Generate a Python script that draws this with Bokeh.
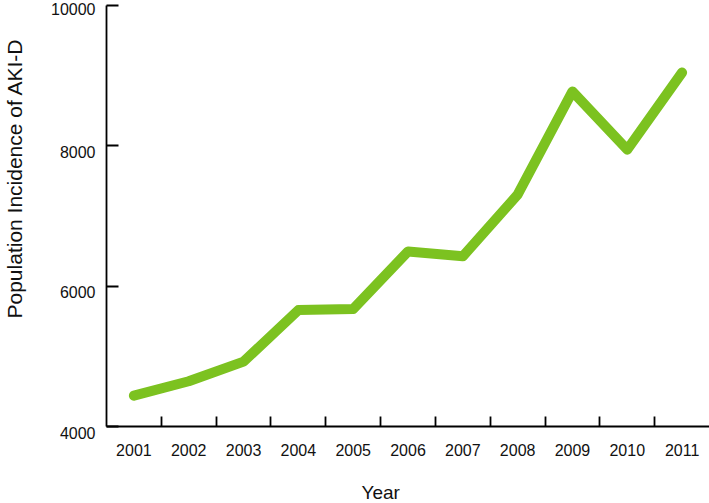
from bokeh.plotting import figure
from bokeh.models import Range1d, FixedTicker, Title
from bokeh.embed import file_html
from bokeh.resources import INLINE

years = [2001, 2002, 2003, 2004, 2005, 2006, 2007, 2008, 2009, 2010, 2011]
incidence = [4440, 4645, 4925, 5660, 5675, 6495, 6425, 7305, 8775, 7945, 9045]
year_boundaries = [y + 0.5 for y in years[:-1]]
y_ticks = [4000, 6000, 8000, 10000]
x_title = "Year"
y_title = "Population Incidence of AKI-D"

FONT = "Liberation Sans"
TEXT = "#111111"

p = figure(width=709, height=503, output_backend="svg", toolbar_location=None,
           x_range=Range1d(2000.5, 2011.5), y_range=Range1d(4000, 10000),
           min_border_left=105, min_border_right=0, min_border_top=5, min_border_bottom=77)
p.outline_line_color = None
p.xgrid.visible = False
p.ygrid.visible = False
p.background_fill_color = "white"
p.border_fill_color = "white"

p.line(years, incidence, line_color="#7cc220", line_width=10,
       line_cap="round", line_join="round")

xa = p.xaxis[0]
xa.ticker = FixedTicker(ticks=years, minor_ticks=year_boundaries)
xa.major_tick_in = 0
xa.major_tick_out = 0
xa.minor_tick_in = 10
xa.minor_tick_out = 0
xa.minor_tick_line_color = "black"
xa.minor_tick_line_width = 1.8
xa.axis_line_color = "black"
xa.axis_line_width = 1.8
xa.major_label_standoff = 17
xa.major_label_text_font = FONT
xa.major_label_text_font_size = "16px"
xa.major_label_text_color = TEXT

ya = p.yaxis[0]
ya.ticker = FixedTicker(ticks=y_ticks, minor_ticks=[])
ya.major_tick_in = 12
ya.major_tick_out = 0
ya.major_tick_line_color = "black"
ya.major_tick_line_width = 1.8
ya.minor_tick_in = 0
ya.minor_tick_out = 0
ya.axis_line_color = "black"
ya.axis_line_width = 1.8
ya.major_label_standoff = 11
ya.major_label_text_font = FONT
ya.major_label_text_font_size = "16px"
ya.major_label_text_color = TEXT
ya.major_label_text_line_height = 0.8
ya.major_label_overrides = {t: ("\n" + str(t) if t != y_ticks[-1] else str(t)) for t in y_ticks}

p.add_layout(Title(text=" \n" + x_title, align="left", offset=255, standoff=0,
                   text_font=FONT, text_font_size="19px", text_font_style="normal",
                   text_line_height=1.0, text_color=TEXT), "below")
p.add_layout(Title(text=y_title + "\n ", align="left", offset=108, standoff=0,
                   text_font=FONT, text_font_size="21px", text_font_style="normal",
                   text_line_height=1.0, text_color=TEXT), "left")

open("out.html", "w").write(file_html(p, INLINE))
